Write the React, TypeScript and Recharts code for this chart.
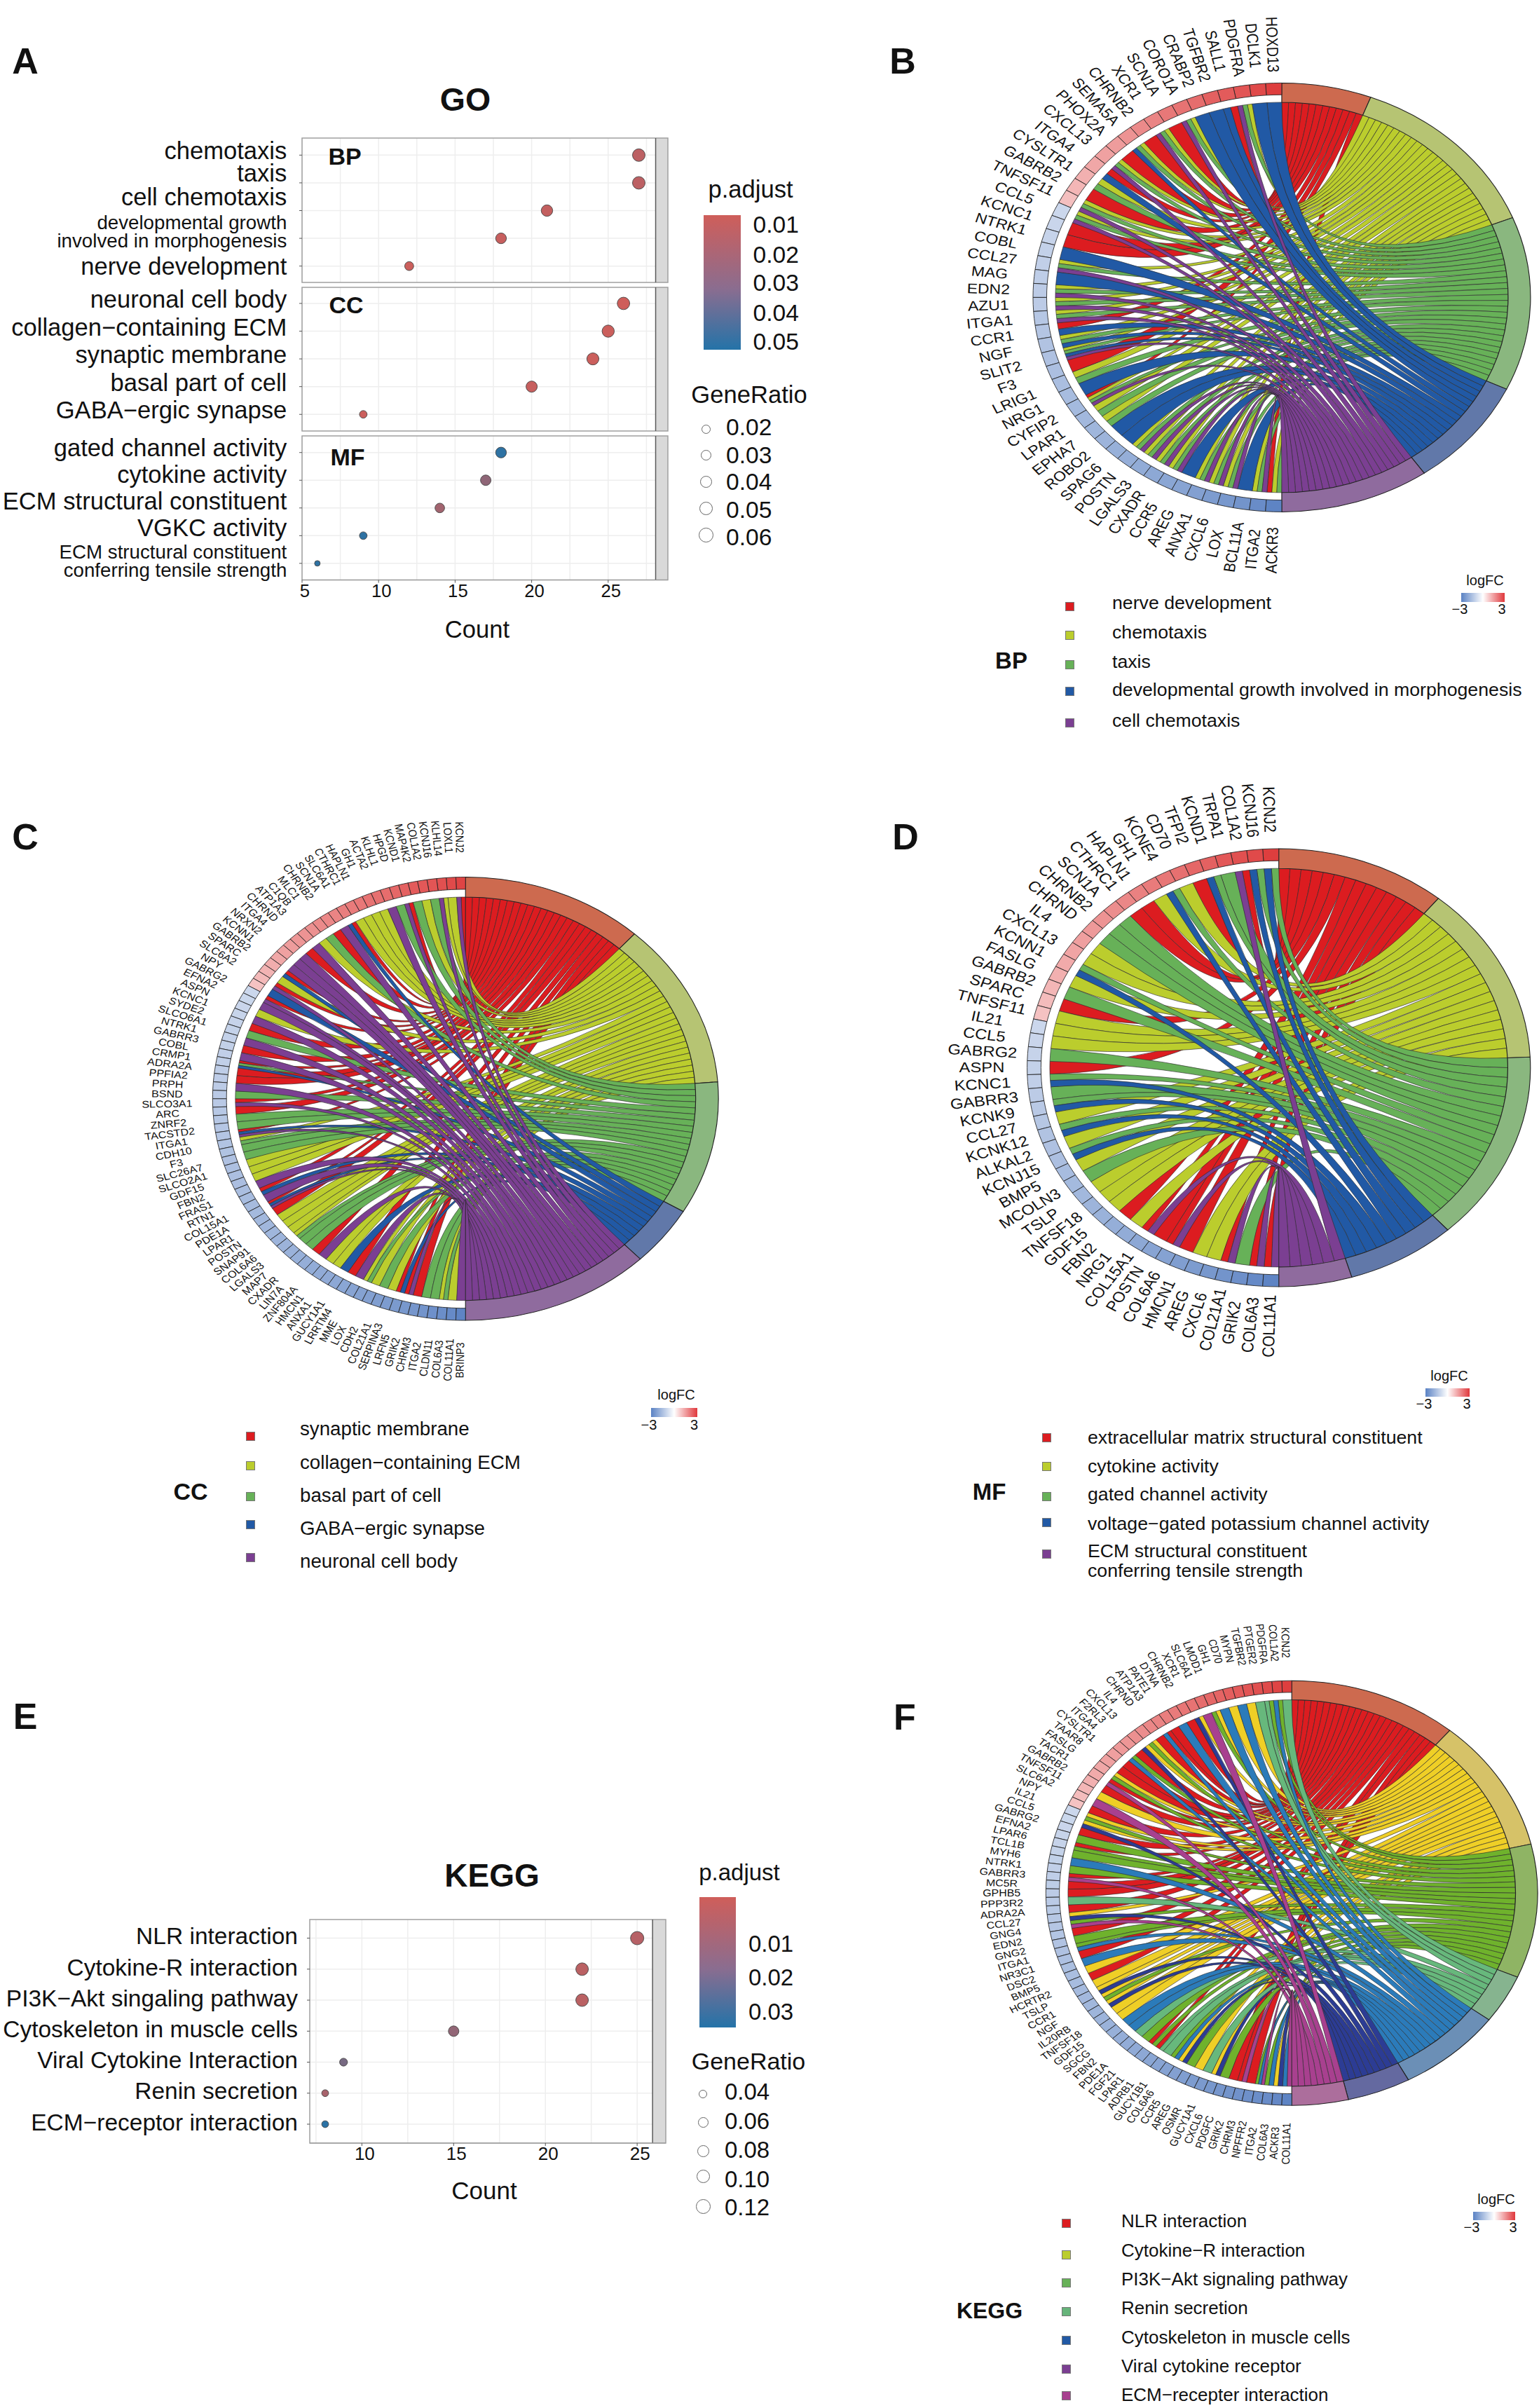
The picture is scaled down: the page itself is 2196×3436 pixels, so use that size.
import {
  CartesianGrid,
  Cell,
  Pie,
  PieChart,
  ReferenceArea,
  ReferenceLine,
  Scatter,
  ScatterChart,
  XAxis,
  YAxis,
  ZAxis,
} from "recharts";

const FONT = '"Liberation Sans", Arial, sans-serif';

// ---- dot plots -------------------------------------------------------------
const bpTerms = ["chemotaxis", "taxis", "cell chemotaxis", "developmental growth\ninvolved in morphogenesis", "nerve development"];
const bpCounts = [27, 27, 21, 18, 12];
const bpRatios = [0.06, 0.06, 0.047, 0.04, 0.027];
const bpPadj = [0.012, 0.012, 0.01, 0.009, 0.008];

const ccTerms = ["neuronal cell body", "collagen−containing ECM", "synaptic membrane", "basal part of cell", "GABA−ergic synapse"];
const ccCounts = [26, 25, 24, 20, 9];
const ccRatios = [0.058, 0.055, 0.053, 0.044, 0.02];
const ccPadj = [0.007, 0.008, 0.008, 0.009, 0.008];

const mfTerms = ["gated channel activity", "cytokine activity", "ECM structural constituent", "VGKC activity", "ECM structural constituent\nconferring tensile strength"];
const mfCounts = [18, 17, 14, 9, 6];
const mfRatios = [0.04, 0.038, 0.031, 0.02, 0.013];
const mfPadj = [0.05, 0.024, 0.019, 0.05, 0.05];

const keggTerms = ["NLR interaction", "Cytokine-R interaction", "PI3K−Akt singaling pathway", "Cytoskeleton in muscle cells", "Viral Cytokine Interaction", "Renin secretion", "ECM−receptor interaction"];
const keggCounts = [25, 22, 22, 15, 9, 8, 8];
const keggRatios = [0.12, 0.105, 0.105, 0.072, 0.045, 0.038, 0.038];
const keggPadj = [0.002, 0.001, 0.001, 0.01, 0.016, 0.005, 0.033];

const goTicks = [5, 10, 15, 20, 25];
const goGrid = [5, 7.5, 10, 12.5, 15, 17.5, 20, 22.5, 25, 27.5];
const keggTicks = [10, 15, 20, 25];
const keggGrid = [7.5, 10, 12.5, 15, 17.5, 20, 22.5, 25];

const goPadjTicks = ["0.01", "0.02", "0.03", "0.04", "0.05"];
const goRatioTicks = ["0.02", "0.03", "0.04", "0.05", "0.06"];
const keggPadjTicks = ["0.01", "0.02", "0.03"];
const keggRatioTicks = ["0.04", "0.06", "0.08", "0.10", "0.12"];

// ---- chord plots -----------------------------------------------------------
const bpGenes = ["HOXD13", "DCLK1", "PDGFRA", "SALL1", "TGFBR2", "CRABP2", "CORO1A", "SCN1A", "XCR1", "CHRNB2", "SEMA5A", "PHOX2A", "CXCL13", "ITGA4", "CYSLTR1", "GABRB2", "TNFSF11", "CCL5", "KCNC1", "NTRK1", "COBL", "CCL27", "MAG", "EDN2", "AZU1", "ITGA1", "CCR1", "NGF", "SLIT2", "F3", "LRIG1", "NRG1", "CYFIP2", "LPAR1", "EPHA7", "ROBO2", "SPAG6", "POSTN", "LGALS3", "CXADR", "CCR5", "AREG", "ANXA1", "CXCL6", "LOX", "BCL11A", "ITGA2", "ACKR3"];
const bpLogFC = [3.3, 3.1, 2.9, 2.8, 2.7, 2.5, 2.4, 2.3, 2.1, 2.0, 1.85, 1.7, 1.6, 1.5, 1.35, 1.25, 1.1, -1.0, -1.05, -1.1, -1.15, -1.2, -1.25, -1.3, -1.3, -1.4, -1.45, -1.5, -1.55, -1.6, -1.65, -1.7, -1.75, -1.8, -1.85, -1.9, -2.0, -2.05, -2.1, -2.2, -2.25, -2.3, -2.4, -2.5, -2.6, -2.7, -2.9, -3.1];
const bpMembership = ["b", "b", "ygp", "rb", "b", "b", "ygp", "r", "ygp", "r", "ygb", "r", "ygp", "rb", "yg", "r", "ygp", "ygp", "r", "r", "b", "ygp", "b", "ygp", "ygp", "ygp", "rb", "ygb", "ygbp", "r", "yg", "b", "rygp", "yg", "yg", "b", "b", "ygp", "ygp", "ygp", "ygp", "b", "ygp", "ygp", "ygp", "b", "ygp", "ryg"];
const bpChordTerms = ["nerve development", "chemotaxis", "taxis", "developmental growth involved in morphogenesis", "cell chemotaxis"];

const ccGenes = ["KCNJ2", "LOXL1", "KLHL14", "KCNJ16", "COL1A2", "MAP4K2", "KCND1", "HPGD", "KLHL1", "ACTA2", "GH1", "HAPLN1", "CTHRC1", "SLC6A1", "SCN1A", "CHRNB2", "MLC1", "C1QB", "ATP1A3", "CHRND", "ITGA4", "NRXN2", "KCNN1", "GABRB2", "SPARC", "SLC6A2", "NPY", "GABRG2", "EFNA2", "ASPN", "KCNC1", "SYDE2", "SLCO6A1", "NTRK1", "GABRR3", "COBL", "CRMP1", "ADRA2A", "PPFIA2", "PRPH", "BSND", "SLCO3A1", "ARC", "ZNRF2", "TACSTD2", "ITGA1", "CDH10", "F3", "SLC26A7", "SLCO2A1", "GDF15", "FBN2", "FRAS1", "RTN1", "COL15A1", "PDE1A", "LPAR1", "POSTN", "SNAP91", "COL6A6", "LGALS3", "MAP7", "CXADR", "LIN7A", "ZNF804A", "HMCN1", "ANXA1", "GUCY1A1", "LRRTM4", "MME", "LOX", "CDH2", "COL21A1", "SERPINA3", "LRFN5", "GRIK2", "CHRM3", "ITGA2", "CLDN11", "COL6A3", "COL11A1", "BRINP3"];
const ccLogFC = [3.2, 3.1, 3.0, 2.9, 2.85, 2.8, 2.7, 2.6, 2.5, 2.45, 2.4, 2.3, 2.25, 2.2, 2.1, 2.05, 2.0, 1.9, 1.85, 1.8, 1.7, 1.6, 1.5, 1.4, 1.3, 1.2, 1.05, -1.0, -1.02, -1.05, -1.08, -1.1, -1.13, -1.15, -1.18, -1.2, -1.22, -1.25, -1.28, -1.3, -1.33, -1.35, -1.38, -1.4, -1.43, -1.45, -1.5, -1.52, -1.55, -1.58, -1.6, -1.63, -1.65, -1.7, -1.72, -1.75, -1.8, -1.82, -1.85, -1.9, -1.92, -1.95, -2.0, -2.05, -2.1, -2.12, -2.15, -2.2, -2.25, -2.3, -2.35, -2.4, -2.45, -2.5, -2.55, -2.6, -2.65, -2.7, -2.8, -2.85, -2.95, -3.1];
const ccMembership = ["rp", "y", "yp", "g", "y", "g", "rp", "g", "p", "y", "y", "y", "y", "rb", "p", "r", "g", "y", "p", "r", "p", "p", "p", "rb", "y", "rp", "b", "rp", "p", "y", "p", "r", "g", "p", "r", "p", "rgb", "r", "r", "p", "g", "rp", "r", "g", "g", "rbp", "yg", "g", "g", "y", "y", "y", "p", "rb", "p", "rbp", "r", "y", "y", "y", "yg", "g", "g", "r", "p", "y", "y", "b", "r", "p", "yg", "y", "g", "y", "rb", "rp", "r", "g", "g", "yg", "y", "p"];
const ccChordTerms = ["synaptic membrane", "collagen−containing ECM", "basal part of cell", "GABA−ergic synapse", "neuronal cell body"];

const mfGenes = ["KCNJ2", "KCNJ16", "COL1A2", "TRPA1", "KCND1", "TFPI2", "CD70", "KCNE4", "GH1", "HAPLN1", "CTHRC1", "SCN1A", "CHRNB2", "CHRND", "IL4", "CXCL13", "KCNN1", "FASLG", "GABRB2", "SPARC", "TNFSF11", "IL21", "CCL5", "GABRG2", "ASPN", "KCNC1", "GABRR3", "KCNK9", "CCL27", "KCNK12", "ALKAL2", "KCNJ15", "BMP5", "MCOLN3", "TSLP", "TNFSF18", "GDF15", "FBN2", "NRG1", "COL15A1", "POSTN", "COL6A6", "HMCN1", "AREG", "CXCL6", "COL21A1", "GRIK2", "COL6A3", "COL11A1"];
const mfLogFC = [3.3, 3.1, 3.0, 2.85, 2.7, 2.6, 2.45, 2.35, 2.25, 2.15, 2.05, 1.95, 1.85, 1.75, 1.65, 1.55, 1.45, 1.35, 1.25, 1.15, 1.05, -1.0, -1.05, -1.1, -1.15, -1.2, -1.3, -1.35, -1.4, -1.5, -1.55, -1.6, -1.7, -1.75, -1.8, -1.9, -1.95, -2.05, -2.1, -2.2, -2.3, -2.35, -2.45, -2.5, -2.6, -2.7, -2.8, -2.95, -3.1];
const mfMembership = ["gb", "gb", "rp", "g", "gb", "r", "y", "gb", "y", "r", "r", "g", "g", "g", "y", "y", "gb", "y", "g", "r", "y", "y", "y", "g", "r", "gb", "g", "gb", "y", "gb", "y", "gb", "y", "g", "y", "y", "y", "r", "y", "rp", "r", "rp", "r", "y", "y", "rp", "g", "rp", "rp"];
const mfChordTerms = ["extracellular matrix structural constituent", "cytokine activity", "gated channel activity", "voltage−gated potassium channel activity", "ECM structural constituent\nconferring tensile strength"];

const keggGenes = ["KCNJ2", "COL1A2", "PDGFRA", "PTGER2", "TGFBR2", "MYPN", "CD70", "GH1", "LMOD1", "SLC6A1", "XCR1", "CHRNB2", "DTNA", "PATE1", "ATP1A3", "CHRND", "IL4", "CXCL13", "F2RL3", "ITGA4", "CYSLTR1", "TAAR8", "FASLG", "TACR1", "GABRB2", "TNFSF11", "SLC6A2", "NPY", "IL21", "CCL5", "GABRG2", "EFNA2", "LPAR6", "TCL1B", "MYH6", "NTRK1", "GABRR3", "MC5R", "GPHB5", "PPP3R2", "ADRA2A", "CCL27", "GNG4", "EDN2", "GNG2", "ITGA1", "NR3C1", "DSC2", "BMP5", "HCRTR2", "TSLP", "CCR1", "NGF", "IL20RB", "TNFSF18", "GDF15", "SGCG", "FBN2", "PDE1A", "FGF21", "LPAR1", "ADRB1", "GUCY1B1", "COL6A6", "CCR5", "AREG", "OSMR", "GUCY1A1", "CXCL6", "PDGFC", "GRIK2", "CHRM3", "NPFFR2", "ITGA2", "COL6A3", "ACKR3", "COL11A1"];
const keggLogFC = [3.3, 3.2, 3.1, 3.0, 2.9, 2.8, 2.75, 2.65, 2.6, 2.5, 2.4, 2.35, 2.25, 2.2, 2.1, 2.05, 1.95, 1.9, 1.8, 1.75, 1.65, 1.6, 1.5, 1.45, 1.35, 1.25, 1.15, 1.05, -1.0, -1.02, -1.05, -1.08, -1.1, -1.13, -1.17, -1.2, -1.23, -1.27, -1.3, -1.33, -1.37, -1.4, -1.43, -1.47, -1.5, -1.55, -1.58, -1.62, -1.65, -1.7, -1.73, -1.78, -1.82, -1.87, -1.9, -1.95, -2.0, -2.05, -2.1, -2.15, -2.2, -2.25, -2.3, -2.35, -2.4, -2.45, -2.5, -2.55, -2.6, -2.65, -2.7, -2.75, -2.8, -2.85, -2.9, -3.0, -3.1];
const keggMembership = ["m", "gb", "gm", "m", "y", "b", "y", "b", "yg", "v", "yn", "r", "b", "r", "rb", "r", "yg", "yn", "r", "gb", "r", "r", "yg", "rv", "r", "y", "v", "r", "yg", "yn", "r", "g", "rg", "g", "b", "g", "rv", "r", "r", "m", "r", "yn", "gv", "r", "g", "gb", "r", "b", "y", "r", "y", "yn", "yg", "yn", "y", "y", "b", "b", "m", "g", "rg", "rm", "m", "gb", "yn", "g", "y", "m", "yn", "g", "r", "rv", "r", "gbv", "gb", "yn", "bv"];
const keggChordTerms = ["NLR interaction", "Cytokine−R interaction", "PI3K−Akt signaling pathway", "Renin secretion", "Cytoskeleton in muscle cells", "Viral cytokine receptor", "ECM−recepter interaction"];

const ribbonColors = ["#dc1c20", "#bbcd2d", "#67b158", "#2159a5", "#7b3f92"];
const ringColors = ["#cd6a4f", "#b6c473", "#8ab77f", "#6178a9", "#8f6b9e"];
const keggRibbonColors = ["#dc1c20", "#efcf26", "#6fb22c", "#67b87c", "#2b7bba", "#2c3c94", "#a8408f"];
const keggRingColors = ["#cd6a4f", "#d6c268", "#8fb464", "#86b48f", "#6b8fb6", "#6469a0", "#ac6e9c"];
const keggSwatchColors = ["#dc1c20", "#bbcd2d", "#67b158", "#66b47a", "#2159a5", "#7b3f92", "#a8408f"];

// ---- helpers ---------------------------------------------------------------
function mix(a: number[], b: number[], t: number) {
  const c = a.map((v, i) => Math.round(v + (b[i] - v) * t));
  return `rgb(${c[0]},${c[1]},${c[2]})`;
}

function padjColor(p: number, lo: number, hi: number) {
  const t = Math.max(0, Math.min(1, (p - lo) / (hi - lo)));
  return mix([207, 94, 90], [36, 115, 168], t);
}

function fcColor(v: number) {
  const t = Math.min(1, Math.abs(v) / 3.3);
  return v > 0 ? mix([255, 255, 255], [222, 62, 62], t) : mix([255, 255, 255], [84, 124, 192], t);
}

function Txt({ x, y, size, bold, align = "center", children }: any) {
  const tx = align === "center" ? "-50%" : align === "right" ? "-100%" : "0";
  return (
    <div
      style={{
        position: "absolute",
        left: x,
        top: y,
        transform: `translate(${tx}, -50%)`,
        fontSize: size,
        fontWeight: bold ? 700 : 400,
        fontFamily: FONT,
        whiteSpace: "pre",
        lineHeight: 1.04,
        color: "#111",
      }}
    >
      {children}
    </div>
  );
}

// ---- dot plot panel --------------------------------------------------------
function DotPanel({ terms, counts, ratios, padj, left, right, top, height, domain, strip, ticks, grid, rowPad, nudge, labelSize, smallSize, gap, ratioDomain, sizeRange, padjDomain, tickSize, showAxis }: any) {
  const rows = terms.map((_: string, i: number) => i);
  const data = terms.map((t: string, i: number) => ({ term: t, count: counts[i], ratio: ratios[i], padj: padj[i], row: i }));
  const axisH = showAxis ? 60 : 0;
  const pad = 20;
  const renderTick = (p: any) => {
    const lines = String(terms[p.payload.value]).split("\n");
    const size = lines.length > 1 ? smallSize : labelSize;
    const dy = nudge ? nudge[p.payload.value] : 0;
    return (
      <text x={p.x} y={p.y + dy} textAnchor="end" fontFamily={FONT} fontSize={size} fill="#111">
        {lines.map((l, i) => (
          <tspan key={i} x={p.x} dy={i === 0 ? (lines.length > 1 ? -3 : size * 0.35) : size * 0.94}>
            {l}
          </tspan>
        ))}
      </text>
    );
  };
  return (
    <div style={{ position: "absolute", left: 0, top: top - pad }}>
      <ScatterChart
        width={right + 6}
        height={pad + height + (showAxis ? axisH : pad)}
        margin={{ top: pad, right: 6, bottom: showAxis ? 0 : pad, left: 0 }}
      >
        <CartesianGrid stroke="#eeeeee" strokeWidth={1.5} horizontalValues={rows} verticalValues={grid} />
        <ReferenceArea x1={strip} x2={domain[1]} fill="#d9d9d9" fillOpacity={1} stroke="none" />
        <ReferenceArea x1={domain[0]} x2={domain[1]} fill="none" stroke="#a0a0a0" strokeWidth={1.5} />
        <ReferenceLine x={strip} stroke="#5a5a5a" strokeWidth={1.5} />
        <XAxis
          type="number"
          dataKey="count"
          domain={domain}
          ticks={ticks}
          allowDataOverflow
          hide={!showAxis}
          height={axisH}
          interval={0}
          axisLine={{ stroke: "#9a9a9a" }}
          tickLine={{ stroke: "#555" }}
          tickSize={4}
          tick={{ fontSize: tickSize, fontFamily: FONT, fill: "#111", dx: 4 }}
        />
        <YAxis
          type="number"
          dataKey="row"
          domain={[-rowPad[0], terms.length - 1 + rowPad[1]]}
          ticks={rows}
          reversed
          interval={0}
          allowDataOverflow
          width={left}
          tickSize={4}
          tickMargin={gap - 4}
          axisLine={false}
          tickLine={{ stroke: "#555" }}
          tick={renderTick}
        />
        <ZAxis type="number" dataKey="ratio" domain={ratioDomain} range={sizeRange} scale="sqrt" />
        <Scatter data={data} stroke="#444" strokeWidth={0.9} isAnimationActive={false}>
          {data.map((d: any) => (
            <Cell key={d.term} fill={padjColor(d.padj, padjDomain[0], padjDomain[1])} />
          ))}
        </Scatter>
      </ScatterChart>
    </div>
  );
}

function ScaleLegend({ x, y, w, h }: any) {
  return (
    <div
      style={{
        position: "absolute",
        left: x,
        top: y,
        width: w,
        height: h,
        background: "linear-gradient(180deg, #cf5e5a, #8a6d90 55%, #2473a8)",
      }}
    />
  );
}

function RatioDot({ x, y, d }: any) {
  return (
    <div
      style={{
        position: "absolute",
        left: x - d / 2,
        top: y - d / 2,
        width: d,
        height: d,
        boxSizing: "border-box",
        borderRadius: "50%",
        border: "1.5px solid #666",
      }}
    />
  );
}

// ---- chord panel -----------------------------------------------------------
function buildLinks(membership: string[], keys: string, colors: string[]) {
  const n = membership.length;
  const links: any[] = [];
  keys.split("").forEach((key, term) => {
    membership.forEach((m, i) => {
      const k = m.indexOf(key);
      if (k < 0) return;
      links.push({
        value: 1,
        term,
        fill: colors[term],
        geneStart: 90 + ((i + k / m.length) * 180) / n,
        geneEnd: 90 + ((i + (k + 1) / m.length) * 180) / n,
      });
    });
  });
  return links;
}

function Ribbon(props: any) {
  const { cx, cy, outerRadius: r, startAngle, endAngle, fill } = props;
  const link = props.geneStart !== undefined ? props : props.payload?.geneStart !== undefined ? props.payload : props.payload?.payload;
  const pt = (a: number) => {
    const rad = (a * Math.PI) / 180;
    return `${cx + r * Math.cos(rad)} ${cy - r * Math.sin(rad)}`;
  };
  const d = [
    `M ${pt(link.geneStart)}`,
    `Q ${cx} ${cy} ${pt(startAngle)}`,
    `A ${r} ${r} 0 0 1 ${pt(endAngle)}`,
    `Q ${cx} ${cy} ${pt(link.geneEnd)}`,
    `A ${r} ${r} 0 0 1 ${pt(link.geneStart)}`,
    "Z",
  ].join(" ");
  return <path d={d} fill={fill} stroke="#2b2b2b" strokeWidth={0.6} />;
}

function ChordPanel({ genes, logFC, membership, keys, terms, ribbons, rings, cx, cy, R, sx, fontSize, ribbonIn = 0.91 }: any) {
  const links = buildLinks(membership, keys, ribbons);
  const geneData = genes.map((g: string, i: number) => ({ name: g, value: 1, fc: logFC[i] }));
  const termData = terms.map((t: string, i: number) => ({ name: t, value: links.filter((l) => l.term === i).length }));
  const size = R * 2.8;
  const c = size / 2;
  const renderGene = (p: any) => {
    const rad = (p.midAngle * Math.PI) / 180;
    const x = c + 1.18 * R * Math.cos(rad);
    const y = c - 1.18 * R * Math.sin(rad);
    return (
      <text
        key={p.index}
        x={x}
        y={y}
        transform={`rotate(${180 - p.midAngle} ${x} ${y})`}
        textAnchor="middle"
        dominantBaseline="central"
        fontFamily={FONT}
        fontSize={fontSize}
        fill="#111"
      >
        {genes[p.index]}
      </text>
    );
  };
  return (
    <div
      style={{
        position: "absolute",
        left: cx - c * sx,
        top: cy - c,
        width: size,
        height: size,
        transform: `scaleX(${sx})`,
        transformOrigin: "0 0",
      }}
    >
      <PieChart width={size} height={size} margin={{ top: 0, right: 0, bottom: 0, left: 0 }}>
        <Pie
          data={links}
          dataKey="value"
          cx={c}
          cy={c}
          innerRadius={0}
          outerRadius={R * ribbonIn}
          startAngle={90}
          endAngle={-90}
          isAnimationActive={false}
          shape={Ribbon}
        />
        <Pie
          data={termData}
          dataKey="value"
          nameKey="name"
          cx={c}
          cy={c}
          innerRadius={R * ribbonIn}
          outerRadius={R}
          startAngle={90}
          endAngle={-90}
          stroke="#222"
          strokeWidth={1}
          isAnimationActive={false}
        >
          {termData.map((t: any, i: number) => (
            <Cell key={t.name} fill={rings[i]} />
          ))}
        </Pie>
        <Pie
          data={geneData}
          dataKey="value"
          nameKey="name"
          cx={c}
          cy={c}
          innerRadius={R * 0.945}
          outerRadius={R}
          startAngle={90}
          endAngle={270}
          stroke="#222"
          strokeWidth={0.8}
          isAnimationActive={false}
          label={renderGene}
          labelLine={false}
        >
          {geneData.map((g: any) => (
            <Cell key={g.name} fill={fcColor(g.fc)} />
          ))}
        </Pie>
      </PieChart>
    </div>
  );
}

function ChordLegend({ terms, colors, swatchX, swatchYs, textX, textYs, size, sw }: any) {
  return (
    <>
      {terms.map((t: string, i: number) => (
        <div key={t}>
          <div
            style={{
              position: "absolute",
              left: swatchX,
              top: swatchYs[i] - sw / 2,
              width: sw,
              height: sw,
              boxSizing: "border-box",
              background: colors[i],
              border: "0.5px solid #777",
            }}
          />
          <Txt x={textX} y={textYs[i]} size={size} align="left">
            {t}
          </Txt>
        </div>
      ))}
    </>
  );
}

function FcBar({ cx, y, x0, x1, y0, y1, lowX, highX, tickY }: any) {
  return (
    <>
      <Txt x={cx} y={y} size={20}>logFC</Txt>
      <div
        style={{
          position: "absolute",
          left: x0,
          top: y0,
          width: x1 - x0,
          height: y1 - y0,
          background: "linear-gradient(90deg, #5a82c4, #ffffff 50%, #e0383c)",
        }}
      />
      <Txt x={lowX} y={tickY} size={20}>−3</Txt>
      <Txt x={highX} y={tickY} size={20}>3</Txt>
    </>
  );
}

export default function App() {
  const goCommon = {
    left: 431,
    right: 953,
    domain: [5, 28.9],
    strip: 28.1,
    ticks: goTicks,
    grid: goGrid,
    labelSize: 34.6,
    smallSize: 27.7,
    tickSize: 25.7,
    gap: 21.7,
    ratioDomain: [0.013, 0.06],
    sizeRange: [50, 254],
    padjDomain: [0.0068, 0.0528],
  };
  return (
    <div style={{ position: "absolute", left: 0, top: 0, width: 2196, height: 3436, overflow: "hidden", background: "#fff" }}>
      {/* A */}
      <Txt x={36} y={87} size={52} bold>A</Txt>
      <Txt x={664} y={142} size={46.5} bold>GO</Txt>
      <DotPanel {...goCommon} terms={bpTerms} counts={bpCounts} ratios={bpRatios} padj={bpPadj} top={196.7} height={206} rowPad={[0.615, 0.59]} nudge={[-6, -14, -20, -10, 0]} />
      <DotPanel {...goCommon} terms={ccTerms} counts={ccCounts} ratios={ccRatios} padj={ccPadj} top={410.2} height={205} rowPad={[0.58, 0.6]} nudge={[-6, -6, -6, -6, -6]} />
      <DotPanel {...goCommon} terms={mfTerms} counts={mfCounts} ratios={mfRatios} padj={mfPadj} top={621.8} height={205.6} rowPad={[0.6, 0.6]} nudge={[-7, -8, -10, -11, -4]} showAxis />
      <Txt x={492} y={224} size={34} bold>BP</Txt>
      <Txt x={494} y={436} size={34} bold>CC</Txt>
      <Txt x={496} y={653} size={34} bold>MF</Txt>
      <Txt x={681} y={899} size={34.6}>Count</Txt>
      <Txt x={1071} y={271} size={34.6}>p.adjust</Txt>
      <ScaleLegend x={1003.5} y={307} w={53} h={192} />
      {goPadjTicks.map((t, i) => (
        <Txt key={t} x={1074.5} y={[321, 364, 404, 447, 488][i]} size={33.6} align="left">{t}</Txt>
      ))}
      <Txt x={1069} y={563.5} size={34.6}>GeneRatio</Txt>
      {goRatioTicks.map((t, i) => (
        <div key={t}>
          <RatioDot x={1007} y={[612, 649.5, 687.5, 725.5, 763][i]} d={[13, 15, 17, 19, 21][i]} />
          <Txt x={1036} y={[610, 649.5, 688, 727.5, 767][i]} size={33.6} align="left">{t}</Txt>
        </div>
      ))}

      {/* B */}
      <Txt x={1288} y={87} size={52} bold>B</Txt>
      <ChordPanel genes={bpGenes} logFC={bpLogFC} membership={bpMembership} keys="rygbp" terms={bpChordTerms} ribbons={ribbonColors} rings={ringColors} cx={1829} cy={424.7} R={306} sx={1.16} fontSize={19.8} />
      <ChordLegend terms={bpChordTerms} colors={ribbonColors} swatchX={1520} swatchYs={[865, 906.5, 948, 986.5, 1031]} textX={1587} textYs={[861, 902.5, 945, 984.6, 1029]} size={26.7} sw={13} />
      <Txt x={1443} y={943} size={33} bold>BP</Txt>
      <FcBar cx={2119} y={828} x0={2085} x1={2147} y0={846} y1={859} lowX={2083} highX={2143} tickY={869} />

      {/* C */}
      <Txt x={36} y={1194} size={52} bold>C</Txt>
      <ChordPanel genes={ccGenes} logFC={ccLogFC} membership={ccMembership} keys="rygbp" terms={ccChordTerms} ribbons={ribbonColors} rings={ringColors} cx={664} cy={1567.8} R={316.3} sx={1.141} fontSize={14.1} />
      <ChordLegend terms={ccChordTerms} colors={ribbonColors} swatchX={351} swatchYs={[2049, 2091.5, 2135, 2175.5, 2222]} textX={428} textYs={[2039, 2086.5, 2134, 2180.5, 2228]} size={27.7} sw={13} />
      <Txt x={272} y={2129} size={34} bold>CC</Txt>
      <FcBar cx={965} y={1990} x0={929} x1={994.5} y0={2008.5} y1={2022} lowX={926} highX={990.5} tickY={2033} />

      {/* D */}
      <Txt x={1292} y={1194} size={52} bold>D</Txt>
      <ChordPanel genes={mfGenes} logFC={mfLogFC} membership={mfMembership} keys="rygbp" terms={mfChordTerms} ribbons={ribbonColors} rings={ringColors} cx={1824.5} cy={1523.5} R={312.5} sx={1.149} fontSize={20.7} />
      <ChordLegend terms={mfChordTerms} colors={ribbonColors} swatchX={1486.7} swatchYs={[2051, 2092.5, 2135, 2172.5, 2217]} textX={1552} textYs={[2052, 2092.5, 2133, 2174.5, 2228]} size={26.7} sw={13} />
      <Txt x={1411.5} y={2129} size={33} bold>MF</Txt>
      <FcBar cx={2068} y={1963} x0={2034} x1={2097} y0={1981} y1={1993} lowX={2032} highX={2093} tickY={2003} />

      {/* E */}
      <Txt x={36} y={2449} size={52} bold>E</Txt>
      <Txt x={702} y={2677} size={46} bold>KEGG</Txt>
      <DotPanel
        terms={keggTerms}
        counts={keggCounts}
        ratios={keggRatios}
        padj={keggPadj}
        left={442}
        right={950}
        top={2739}
        height={319}
        domain={[7.16, 26.56]}
        strip={25.84}
        ticks={keggTicks}
        grid={keggGrid}
        rowPad={[0.6, 0.61]}
        nudge={[-3, -3, -3, -3, -3, -3, -3]}
        labelSize={33.5}
        smallSize={28}
        tickSize={26}
        gap={17}
        ratioDomain={[0.038, 0.12]}
        sizeRange={[75, 283]}
        padjDomain={[-0.0036, 0.0343]}
        showAxis
      />
      <Txt x={691} y={3126} size={35}>Count</Txt>
      <Txt x={1055} y={2672} size={33}>p.adjust</Txt>
      <ScaleLegend x={998} y={2707} w={52} h={186} />
      {keggPadjTicks.map((t, i) => (
        <Txt key={t} x={1068} y={[2774, 2822, 2871][i]} size={33} align="left">{t}</Txt>
      ))}
      <Txt x={1068} y={2942} size={34}>GeneRatio</Txt>
      {keggRatioTicks.map((t, i) => (
        <div key={t}>
          <RatioDot x={1003} y={[2988, 3028, 3069, 3105, 3148][i]} d={[12, 15, 17, 19, 21][i]} />
          <Txt x={1034} y={[2985, 3027, 3068, 3110, 3150][i]} size={33} align="left">{t}</Txt>
        </div>
      ))}

      {/* F */}
      <Txt x={1291} y={2450} size={52} bold>F</Txt>
      <ChordPanel genes={keggGenes} logFC={keggLogFC} membership={keggMembership} keys="rygmbnv" terms={keggChordTerms} ribbons={keggRibbonColors} rings={keggRingColors} cx={1843} cy={2701} R={303} sx={1.158} fontSize={13.8} />
      <ChordLegend terms={keggChordTerms} colors={keggSwatchColors} swatchX={1515} swatchYs={[3172, 3217, 3257, 3298, 3339, 3380, 3418]} textX={1600} textYs={[3170, 3212, 3253, 3294, 3336, 3377, 3418]} size={26} sw={13} />
      <Txt x={1412} y={3298} size={32} bold>KEGG</Txt>
      <FcBar cx={2135} y={3138} x0={2102} x1={2162} y0={3156} y1={3168} lowX={2100} highX={2159} tickY={3178} />
    </div>
  );
}
